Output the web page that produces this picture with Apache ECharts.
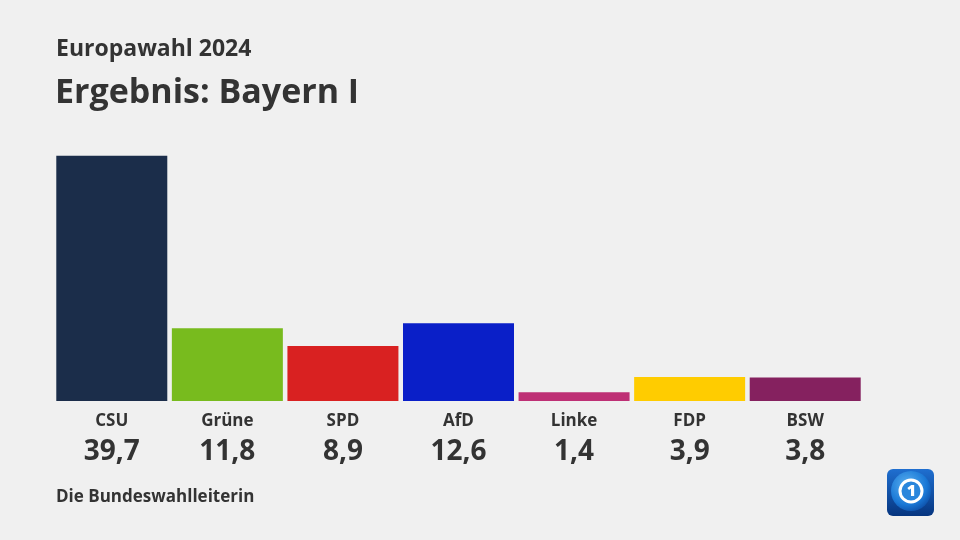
<!DOCTYPE html>
<html>
<head>
<meta charset="utf-8">
<script src="https://cdn.jsdelivr.net/npm/echarts@6/dist/echarts.min.js"></script>
<style>
html,body{margin:0;padding:0;background:#f0f0f0;}
#c{width:960px;height:540px;}
</style>
</head>
<body>
<div id="c"></div>
<script>
const categories = ['CSU', 'Grüne', 'SPD', 'AfD', 'Linke', 'FDP', 'BSW'];
const values = [39.7, 11.8, 8.9, 12.6, 1.4, 3.9, 3.8];
const colors = ['#1b2d4a', '#78bb1e', '#d92121', '#0a1fc8', '#be3075', '#ffcc00', '#85215f'];
const titleText = 'Europawahl 2024';
const subtitleText = 'Ergebnis: Bayern I';
const sourceText = 'Die Bundeswahlleiterin';

const fmt = v => v.toFixed(1).replace('.', ',');
const FONT = '"Open Sans", "Noto Sans", sans-serif';

const chart = echarts.init(document.getElementById('c'), null, {renderer: 'canvas'});
chart.setOption({
  backgroundColor: '#f0f0f0',
  animation: false,
  title: [
    {text: titleText, left: 56, top: 38, padding: 0, textStyle: {fontFamily: FONT, fontSize: 23, fontWeight: 700, color: '#333'}},
    {text: subtitleText, left: 55, top: 76, padding: 0, textStyle: {fontFamily: FONT, fontSize: 34, fontWeight: 700, color: '#333'}},
    {text: sourceText, left: 56, top: 489, padding: 0, textStyle: {fontFamily: FONT, fontSize: 17, fontWeight: 700, color: '#333'}}
  ],
  grid: {left: 54, right: 97, top: 154, bottom: 139, containLabel: false},
  xAxis: {
    type: 'category',
    data: categories,
    axisLine: {show: false},
    axisTick: {show: false},
    axisLabel: {
      margin: 8,
      interval: 0,
      formatter: (name, idx) => '{n|' + name + '}\n{v|' + fmt(values[idx]) + '}',
      rich: {
        n: {fontFamily: FONT, fontSize: 17, fontWeight: 700, color: '#333', lineHeight: 24, align: 'center'},
        v: {fontFamily: FONT, fontSize: 28, fontWeight: 700, color: '#333', lineHeight: 38, align: 'center'}
      }
    }
  },
  yAxis: {
    type: 'value', min: 0, max: 40,
    show: false,
    splitLine: {show: false}
  },
  series: [{
    type: 'bar',
    barWidth: 111,
    data: values.map((v, i) => ({value: v, itemStyle: {color: colors[i]}})),
    label: {show: false}
  }],
  graphic: [{
    type: 'group',
    left: 887, top: 469,
    children: [
      {type: 'rect', shape: {x: 0, y: 0, width: 47, height: 47, r: 6},
        style: {fill: new echarts.graphic.LinearGradient(0, 0, 0, 1, [{offset: 0, color: '#1f6fd0'}, {offset: 1, color: '#06357f'}])}},
      {type: 'circle', shape: {cx: 24, cy: 22, r: 20},
        style: {fill: new echarts.graphic.RadialGradient(0.4, 0.35, 0.7, [{offset: 0, color: '#5ab0f0'}, {offset: 0.7, color: '#1a78d6'}, {offset: 1, color: '#0d4fa8'}])}},
      {type: 'circle', shape: {cx: 24, cy: 22, r: 11},
        style: {fill: '#2a86dc', stroke: '#ffffff', lineWidth: 3}},
      {type: 'text', style: {x: 24.5, y: 22, text: '1', fill: '#ffffff', fontFamily: FONT, fontSize: 16, fontWeight: 800, align: 'center', verticalAlign: 'middle'}}
    ]
  }]
});
</script>
</body>
</html>
